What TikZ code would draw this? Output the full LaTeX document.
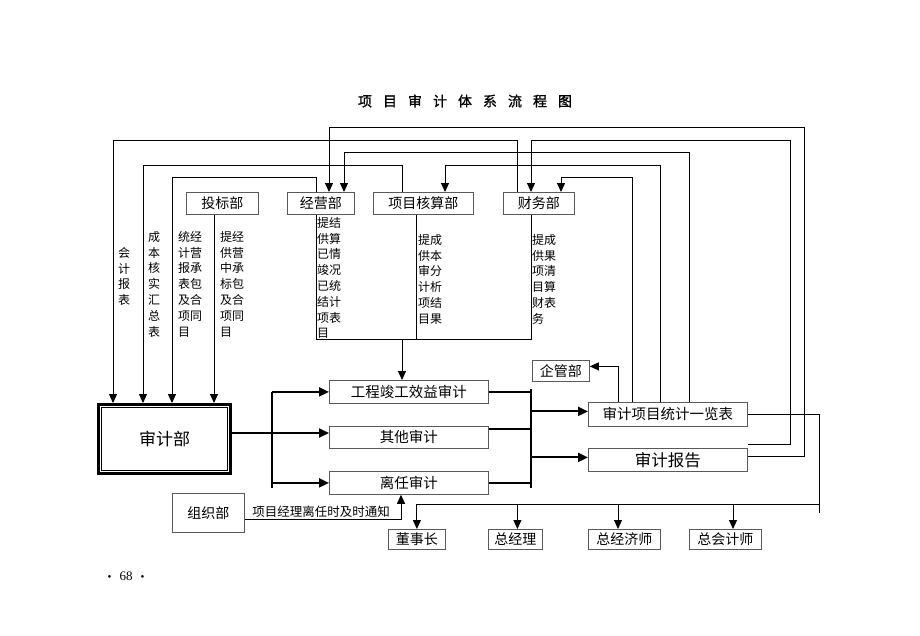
\documentclass[tikz,border=0pt]{standalone}
\usepackage{fontspec}
\setmainfont{Noto Sans CJK SC}
\newfontfamily\titlefont[FakeBold=1.2]{Noto Sans CJK SC}
\newfontfamily\tms{Liberation Serif}
\usetikzlibrary{arrows.meta}
\newcommand\fsz[1]{\fontsize{#1}{#1}\selectfont}
\begin{document}
\begin{tikzpicture}[x=1pt,y=-1pt,
  box/.style={draw=black!65,line width=0.8pt,anchor=north west,inner sep=0pt,font=\fsz{14}},
  ln/.style={line width=1pt},
  arr/.style={ln,-{Triangle[length=9pt,width=8pt]}},
  thk/.style={line width=2pt},
  tarr/.style={thk,-{Triangle[length=10pt,width=9pt]}},
  vt/.style={anchor=north west,inner sep=0pt,align=left,font=\fontsize{12}{15.8}\selectfont}]
\fill[white] (0,0) rectangle (920,635);
\useasboundingbox (0,0) rectangle (920,635);

% title and page number
\node[font=\titlefont\fsz{14}] (title) at (465,101) {项\hspace{11pt}目\hspace{11pt}审\hspace{11pt}计\hspace{11pt}体\hspace{11pt}系\hspace{11pt}流\hspace{11pt}程\hspace{11pt}图};
\node[font=\tms\fsz{13}] (pg) at (126,576) {{\fsz{11}•}\hspace{8pt}68\hspace{8pt}{\fsz{11}•}};

% top boxes
\node[box,minimum width=72pt,minimum height=22pt] (tb) at (186,192) {投标部};
\node[box,minimum width=67pt,minimum height=22pt] (jy) at (287,192) {经营部};
\node[box,minimum width=100pt,minimum height=22pt] (xm) at (373,192) {项目核算部};
\node[box,minimum width=71pt,minimum height=22pt] (cw) at (503,192) {财务部};

% audit department
\node[draw,line width=2.6pt,anchor=north west,minimum width=132.4pt,minimum height=69.4pt,font=\fsz{17}] (sj) at (97,403) {审计部};
\draw[line width=1pt] ([xshift=4.7pt,yshift=-4.7pt]sj.north west) rectangle ([xshift=-4.7pt,yshift=4.7pt]sj.south east);

% middle boxes
\node[box,minimum width=159pt,minimum height=23pt,font=\fsz{14.5}] (gc) at (329,380) {工程竣工效益审计};
\node[box,minimum width=159pt,minimum height=22pt,font=\fsz{14.5}] (qt) at (329,426) {其他审计};
\node[box,minimum width=159pt,minimum height=23pt,font=\fsz{14.5}] (lr) at (329,471) {离任审计};
\node[box,minimum width=72pt,minimum height=39pt] (zz) at (172,493) {组织部};
\node[box,minimum width=57pt,minimum height=21pt] (qg) at (532,360) {企管部};
\node[box,minimum width=159pt,minimum height=24pt,font=\fsz{14.5}] (yl) at (588,402) {审计项目统计一览表};
\node[box,minimum width=159pt,minimum height=23pt,font=\fsz{16.5}] (bg) at (588,448) {审计报告};

% bottom boxes
\node[box,minimum width=57pt,minimum height=20pt] (dsz) at (388,529) {董事长};
\node[box,minimum width=54pt,minimum height=20pt] (zjl) at (488,529) {总经理};
\node[box,minimum width=72pt,minimum height=20pt] (zjj) at (588,529) {总经济师};
\node[box,minimum width=72pt,minimum height=20pt] (zkj) at (689,529) {总会计师};

% vertical texts
\node[vt] (v1) at (118,247) {会\\计\\报\\表};
\node[vt] (v2) at (148,231) {成\\本\\核\\实\\汇\\总\\表};
\node[vt] (v3) at (178,231) {统经\\计营\\报承\\表包\\及合\\项同\\目};
\node[vt] (v4) at (220,231) {提经\\供营\\中承\\标包\\及合\\项同\\目};
\node[vt] (v5) at (317,217) {提结\\供算\\已情\\竣况\\已统\\结计\\项表\\目};
\node[vt] (v6) at (418,234) {提成\\供本\\审分\\计析\\项结\\目果};
\node[vt] (v7) at (532,234) {提成\\供果\\项清\\目算\\财表\\务};

% reports to audit department
\coordinate (r1) at (113,140);
\draw[arr] ([xshift=14pt]cw.north west) |- (r1) -- (r1 |- sj.north);
\coordinate (r2) at (143,165);
\draw[arr] ([xshift=29pt]xm.north west) |- (r2) -- (r2 |- sj.north);
\coordinate (r3) at (172,177);
\draw[arr] ([xshift=29pt]jy.north west) |- (r3) -- (r3 |- sj.north);
\coordinate (t4) at ([xshift=28pt]tb.south west);
\draw[arr] (t4) -- (t4 |- sj.north);

% collector into project completion audit
\coordinate (j5) at ([xshift=29pt]jy.south west);
\coordinate (x5) at ([xshift=43pt]xm.south west);
\coordinate (c5) at ([xshift=28pt]cw.south west);
\coordinate (b5) at (316,339);
\coordinate (a5) at (402,339);
\draw[ln] (j5) |- (c5 |- b5) -- (c5);
\draw[ln] (x5) -- (x5 |- b5);
\draw[arr] (a5) -- (a5 |- gc.north);

% audit report feedback
\coordinate (r6) at (804,127);
\coordinate (t6) at ([xshift=42pt]jy.north west);
\draw[arr] ([yshift=3pt]bg.east) -| (r6) -| (t6);
\coordinate (r7) at (790,140);
\coordinate (t7) at ([xshift=28pt]cw.north west);
\draw[arr] ([yshift=4pt]bg.north east) -| (r7) -| (t7);

% statistics table feedback
\coordinate (s8) at ([xshift=101pt]yl.north west);
\coordinate (r8) at (0,152);
\coordinate (t8) at ([xshift=57pt]jy.north west);
\draw[arr] (s8) |- (t8 |- r8) -- (t8);
\coordinate (s9) at ([xshift=72pt]yl.north west);
\coordinate (r9) at (0,165);
\coordinate (t9) at ([xshift=72pt]xm.north west);
\draw[arr] (s9) |- (t9 |- r9) -- (t9);
\coordinate (s10) at ([xshift=44pt]yl.north west);
\coordinate (r10) at (0,177);
\coordinate (t10) at ([xshift=58pt]cw.north west);
\draw[arr] (s10) |- (t10 |- r10) -- (t10);
\coordinate (s11) at ([xshift=30pt]yl.north west);
\draw[arr] (s11) |- ([yshift=4.5pt]qg.east);

% distribution to leaders
\coordinate (r12) at (819,504);
\coordinate (e12) at (819,513);
\draw[ln] (yl.east) -| (e12);
\draw[ln] (r12) -- (dsz.north |- r12);
\draw[arr] (dsz.north |- r12) -- (dsz.north);
\draw[arr] ([xshift=2pt]zjl.north |- r12) -- ([xshift=2pt]zjl.north);
\coordinate (t12c) at ([xshift=30pt]zjj.north west);
\draw[arr] (t12c |- r12) -- (t12c);
\coordinate (t12d) at ([xshift=44pt]zkj.north west);
\draw[arr] (t12d |- r12) -- (t12d);

% audit department to audits
\coordinate (m13) at (272,433);
\coordinate (bus) at (272,488);
\draw[tarr] (sj.east |- m13) -- (qt.west |- m13);
\draw[thk] (gc.west -| bus) -- (bus);
\draw[tarr] (gc.west -| bus) -- (gc.west);
\draw[tarr] (lr.west -| bus) -- (lr.west);

% audits to outputs
\coordinate (rb) at (531,488);
\coordinate (rt) at (531,389);
\draw[thk] (rt) -- (rb);
\draw[thk] (gc.east) -- (gc.east -| rb);
\draw[thk] ([yshift=8pt]qt.east) -- ([yshift=8pt]qt.east -| rb);
\draw[thk] (lr.east) -- (lr.east -| rb);
\draw[tarr] ([yshift=3pt]yl.west -| rb) -- ([yshift=3pt]yl.west);
\draw[tarr] ([yshift=2.5pt]bg.west -| rb) -- ([yshift=2.5pt]bg.west);

% organisation department notice
\coordinate (z15) at (401,519);
\coordinate (t15) at ([xshift=72pt]lr.south west);
\draw[arr] (zz.east |- z15) -| (t15);
\node[font=\fsz{12.5},anchor=south,inner sep=0pt] (lbl) at (321,517.5) {项目经理离任时及时通知};
\end{tikzpicture}
\end{document}
